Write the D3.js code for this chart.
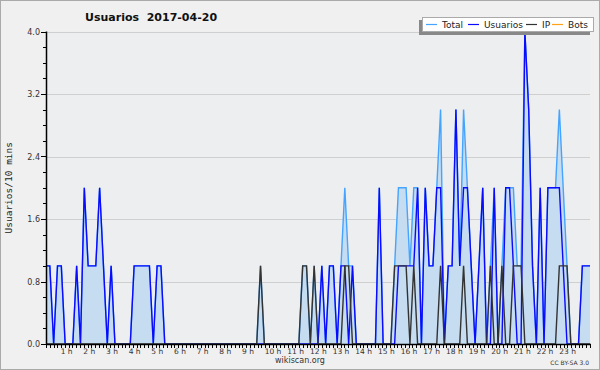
<!DOCTYPE html>
<html>
<head>
<meta charset="utf-8">
<script src="https://cdn.jsdelivr.net/npm/d3@7"></script>
<style>
  body { margin: 0; background: #f0f0f0; }
  svg { display: block; font-family: "DejaVu Sans", sans-serif; }
</style>
</head>
<body>
<div id="chart"></div>
<script>
// Usuarios por 10 minutos, 2017-04-20 (144 intervalos)
let usuarios = [1,1,0,1,1,0,0,0,1,0, 2,1,1,1,2,1,0,1,0,0, 0,0,0,1,1,1,1,1,0,1,
    1,0,0,0,0,0,0,0,0,0, 0,0,0,0,0,0,0,0,0,0, 0,0,0,0,0,0,0,0,0,0,
    0,0,0,0,0,0,0,0,0,0, 0,0,1,0,1,1,0,1,1,0, 1,0,0,0,0,0,0,2,0,0,
    0,0,1,1,1,1,1,2,0,2, 1,1,2,2,0,1,1,3,1,2, 2,1,0,1,2,0,0,2,0,0,
    2,2,1,0,0,4,3,1,0,2, 0,2,2,2,2,1,0,0,0,0, 1,1,1,1]
let ip = [0,0,0,0,0,0,0,0,0,0, 0,0,0,0,0,0,0,0,0,0, 0,0,0,0,0,0,0,0,0,0,
    0,0,0,0,0,0,0,0,0,0, 0,0,0,0,0,0,0,0,0,0, 0,0,0,0,0,0,1,0,0,0,
    0,0,0,0,0,0,0,1,1,0, 1,0,0,0,0,0,0,0,1,1, 0,0,0,0,0,0,0,0,0,0,
    0,1,1,1,1,0,1,0,0,0, 0,0,0,1,0,0,0,0,0,1, 0,0,0,0,0,0,1,0,0,1,
    0,0,1,1,1,0,0,0,0,0, 0,0,0,0,1,1,1,0,0,0, 0,0,0,0]
let total = [1,1,0,1,1,0,0,0,1,0, 2,1,1,1,2,1,0,1,0,0, 0,0,0,1,1,1,1,1,0,1,
    1,0,0,0,0,0,0,0,0,0, 0,0,0,0,0,0,0,0,0,0, 0,0,0,0,0,0,1,0,0,0,
    0,0,0,0,0,0,0,1,1,0, 1,0,1,0,1,1,0,1,2,1, 1,0,0,0,0,0,0,2,0,0,
    0,1,2,2,2,1,2,2,0,2, 1,1,2,3,0,1,1,3,1,3, 2,1,0,1,2,0,1,2,0,1,
    2,2,2,1,1,4,3,1,0,2, 0,2,2,2,3,2,1,0,0,0, 1,1,1,1]
let bots = [0,0,0,0,0,0,0,0,0,0, 0,0,0,0,0,0,0,0,0,0, 0,0,0,0,0,0,0,0,0,0,
    0,0,0,0,0,0,0,0,0,0, 0,0,0,0,0,0,0,0,0,0, 0,0,0,0,0,0,0,0,0,0,
    0,0,0,0,0,0,0,0,0,0, 0,0,0,0,0,0,0,0,0,0, 0,0,0,0,0,0,0,0,0,0,
    0,0,0,0,0,0,0,0,0,0, 0,0,0,0,0,0,0,0,0,0, 0,0,0,0,0,0,0,0,0,0,
    0,0,0,0,0,0,0,0,0,0, 0,0,0,0,0,0,0,0,0,0, 0,0,0,0]
let hourLabels = ["1 h","2 h","3 h","4 h","5 h","6 h","7 h","8 h","9 h","10 h","11 h","12 h",
    "13 h","14 h","15 h","16 h","17 h","18 h","19 h","20 h","21 h","22 h","23 h"]
let yTicks = [0, 0.8, 1.6, 2.4, 3.2, 4.0]
let seriesNames = ["Total", "Usuarios", "IP", "Bots"]
let seriesColors = ["#44a4ff", "#0a0aff", "#333333", "#ffa11a"]

let W = 600, H = 370
let mLeft = 46, mRight = 590, mTop = 31.5, mBottom = 344

let svg = d3.select("#chart").append("svg")
    .attr("width", W).attr("height", H)

svg.append("rect").attr("x", 0.5).attr("y", 0.5).attr("width", W - 1).attr("height", H - 1)
    .attr("fill", "#f0f0f0").attr("stroke", "#aaa")

// escalas
let x = d3.scaleLinear().domain([0, 142]).range([mLeft, mRight])
let xHour = d3.scaleLinear().domain([0, 24]).range([mLeft, mRight])
let y = d3.scaleLinear().domain([0, 4]).range([mBottom, mTop])

svg.append("rect").attr("x", mLeft).attr("y", mTop).attr("width", mRight - mLeft).attr("height", mBottom - mTop)
    .attr("fill", "#edeef0")

// grid
svg.append("g").selectAll("line")
    .data(yTicks.slice(1)).join("line")
    .attr("x1", mLeft).attr("x2", mRight)
    .attr("y1", d => Math.round(y(d)) + 0.5).attr("y2", d => Math.round(y(d)) + 0.5)
    .attr("stroke", "#cfcfcf")

svg.append("clipPath").attr("id", "clip")
    .append("rect").attr("x", mLeft).attr("y", 0).attr("width", mRight - mLeft).attr("height", mBottom + 1)

let plot = svg.append("g").attr("clip-path", "url(#clip)")

let area = d3.area().x((d, i) => x(i)).y0(mBottom).y1(d => y(d))
plot.append("path").attr("d", area(total)).attr("fill", "#c6dcf0")

let line = d3.line().x((d, i) => x(i)).y(d => y(d))
let series = [total, usuarios, ip, bots]
series.forEach((s, k) => {
    if (k === 3) return // bots: todo cero, oculto bajo el eje
    plot.append("path").attr("d", line(s))
        .attr("fill", "none")
        .attr("stroke", seriesColors[k])
        .attr("stroke-width", 1.4)
        .attr("stroke-linejoin", "miter")
})

// eje Y
let yMinor = d3.range(0, 21).map(d => d * 0.2)
svg.append("g").selectAll("line")
    .data(yMinor).join("line")
    .attr("x1", d => Math.abs(d / 0.8 - Math.round(d / 0.8)) < 0.01 ? mLeft - 5 : mLeft - 3)
    .attr("x2", mLeft)
    .attr("y1", d => Math.round(y(d)) + 0.5).attr("y2", d => Math.round(y(d)) + 0.5)
    .attr("stroke", "#000")
svg.append("g").selectAll("text")
    .data(yTicks).join("text")
    .attr("x", mLeft - 6).attr("y", d => y(d) + 3)
    .attr("text-anchor", "end")
    .attr("font-size", 8).attr("fill", "#333")
    .text(d => d.toFixed(1))
svg.append("line").attr("x1", mLeft + 0.5).attr("x2", mLeft + 0.5).attr("y1", mTop).attr("y2", mBottom + 1)
    .attr("stroke", "#000").attr("stroke-width", 1.5)

// eje X
svg.append("g").selectAll("line")
    .data(d3.range(0, 145)).join("line")
    .attr("x1", d => Math.round(xHour(d / 6)) + 0.5).attr("x2", d => Math.round(xHour(d / 6)) + 0.5)
    .attr("y1", mBottom).attr("y2", mBottom + 4)
    .attr("stroke", "#000")
svg.append("line").attr("x1", mLeft).attr("x2", mRight + 1).attr("y1", mBottom + 0.5).attr("y2", mBottom + 0.5)
    .attr("stroke", "#000").attr("stroke-width", 1.5)
svg.append("g").selectAll("text")
    .data(hourLabels).join("text")
    .attr("x", (d, i) => xHour(i + 1) - 8).attr("y", mBottom + 10)
    .attr("font-size", 7.5).attr("fill", "#333")
    .text(d => d)

// titulos
svg.append("text").attr("x", 85).attr("y", 21)
    .attr("font-size", 11).attr("font-weight", "bold").attr("fill", "#111")
    .attr("xml:space", "preserve")
    .text("Usuarios  2017-04-20")
svg.append("text")
    .attr("transform", `translate(12,${(mTop + mBottom) / 2}) rotate(-90)`)
    .attr("text-anchor", "middle")
    .attr("font-family", "DejaVu Sans Mono").attr("font-size", 9.5).attr("fill", "#222")
    .text("Usuarios/10 mins")
svg.append("text").attr("x", 300).attr("y", 363).attr("text-anchor", "middle")
    .attr("font-size", 8).attr("fill", "#333").text("wikiscan.org")
svg.append("text").attr("x", 589).attr("y", 365).attr("text-anchor", "end")
    .attr("font-size", 6).attr("fill", "#333").text("CC BY-SA 3.0")

// leyenda
let lg = svg.append("g")
lg.append("rect").attr("x", 419).attr("y", 20).attr("width", 171).attr("height", 15).attr("fill", "#888")
lg.append("rect").attr("x", 422.5).attr("y", 17.5).attr("width", 171).attr("height", 14)
    .attr("fill", "#fff").attr("stroke", "#aaa")
let legendX = [426, 468, 526, 552]
seriesNames.forEach((name, k) => {
    lg.append("line").attr("x1", legendX[k]).attr("x2", legendX[k] + 11)
        .attr("y1", 24.5).attr("y2", 24.5).attr("stroke", seriesColors[k]).attr("stroke-width", 1.2)
    lg.append("text").attr("x", legendX[k] + 16).attr("y", 28)
        .attr("font-size", 9).attr("fill", "#222").text(name)
})
</script>
</body>
</html>
